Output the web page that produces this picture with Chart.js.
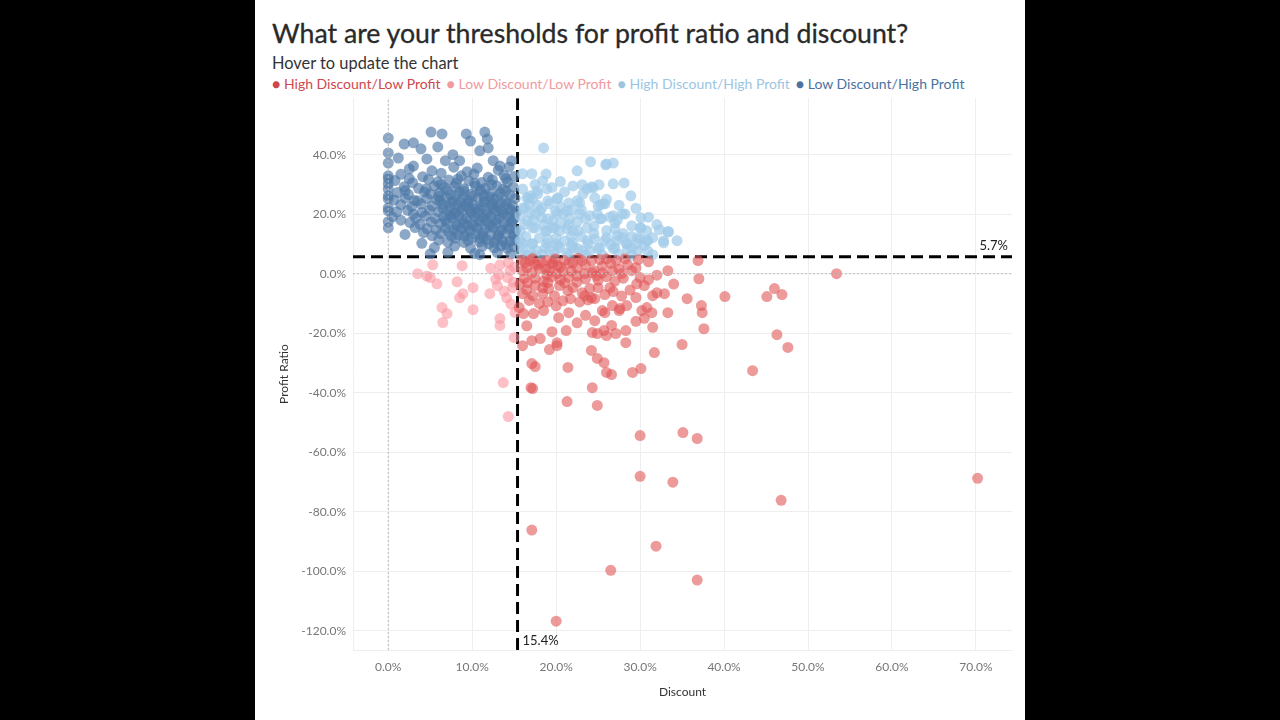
<!DOCTYPE html>
<html>
<head>
<meta charset="utf-8">
<script src="https://cdn.jsdelivr.net/npm/chart.js@4/dist/chart.umd.min.js"></script>
<style>
  html, body { margin: 0; padding: 0; background: #000; width: 1280px; height: 720px; overflow: hidden; }
  #panel { position: absolute; left: 255px; top: 0; width: 770px; height: 720px; background: #fff; }
  #title { position: absolute; left: 17px; top: 17px; font: 26.7px Lato, sans-serif; color: #2a2a2a; white-space: nowrap; -webkit-text-stroke: 0.3px #2a2a2a; }
  #subtitle { position: absolute; left: 17px; top: 53px; font: 16.4px Lato, sans-serif; color: #333; white-space: nowrap; }
  #legend { position: absolute; left: 17px; top: 75px; font: 14px Lato, sans-serif; white-space: nowrap; }
  #legend span { margin-right: 6px; }
  #wrap { position: absolute; left: 10px; top: 84px; width: 755px; height: 619px; }
</style>
</head>
<body>
<div id="panel">
  <div id="title">What are your thresholds for profit ratio and discount?</div>
  <div id="subtitle">Hover to update the chart</div>
  <div id="legend"></div>
  <div id="wrap"><canvas id="grafico"></canvas></div>
</div>
<script>
// umbrales
const umbralDescuento = 15.4;
const umbralGanancia = 5.7;

const categorias = ['High Discount/Low Profit', 'Low Discount/Low Profit', 'High Discount/High Profit', 'Low Discount/High Profit'];
const coloresPunto = ['rgba(225,87,89,0.6)', 'rgba(250,150,160,0.6)', 'rgba(160,203,232,0.7)', 'rgba(78,121,167,0.65)'];
const coloresTexto = ['#cf474d', '#f09aa1', '#9cc5e2', '#4a73a0'];

const xTicks = [0, 10, 20, 30, 40, 50, 60, 70];
const yTicks = [40, 20, 0, -20, -40, -60, -80, -100, -120];

// [descuento %, ratio %]
const altoDescBajaGan = [
  [16.3,3.7],[16.9,4.4],[17.5,3.4],[18.3,3.7],[18.9,4.4],[19.6,3.7],[20.2,2.7],[21.0,4.4],[22.0,3.7],[23.1,4.4],
  [24.2,4.4],[26.0,5.0],[27.2,4.4],[28.2,5.0],[31.0,4.0],[36.9,4.4],
  [16.0,1.0],[17.1,0.3],[18.0,1.7],[19.2,1.0],[20.1,0.0],[20.8,0.7],[22.5,-0.7],[23.4,0.0],[24.3,0.3],[25.5,0.3],
  [26.7,1.0],[27.8,0.0],[29.0,1.0],[30.0,-1.3],[33.3,1.0],[37.0,-1.7],
  [15.7,-3.4],[16.6,-3.0],[18.4,-4.7],[19.1,-5.0],[20.4,-4.0],[21.4,-5.7],[22.0,-4.7],[23.1,-6.4],[24.0,-5.0],[25.0,-4.7],
  [26.4,-4.7],[29.6,-3.4],[30.5,-4.0],[31.5,-7.4],[32.0,-6.4],[32.9,-6.7],[35.6,-8.4],
  [16.0,-6.7],[17.2,-7.4],[18.4,-6.7],[19.8,-7.4],[20.8,-9.1],[21.7,-8.4],[23.4,-7.4],[24.2,-8.1],[24.6,-8.4],[25.5,-12.4],
  [26.7,-10.7],[27.6,-11.7],[28.4,-10.7],[30.2,-12.4],[30.8,-11.4],[31.4,-13.1],[33.3,-13.1],[37.3,-10.7],[37.4,-13.1],
  [15.6,-11.4],[16.1,-13.4],[17.3,-13.4],[18.5,-12.4],[20.3,-14.8],[21.5,-13.1],[24.6,-15.8],[25.8,-13.1],[27.5,-12.4],
  [16.0,-24.2],[17.1,-22.5],[18.1,-21.8],[19.2,-25.5],[20.1,-23.2],[20.1,-24.2],[21.2,-19.1],[24.2,-25.8],[24.3,-19.8],[24.9,-20.1],
  [25.7,-19.1],[26.0,-20.8],[26.6,-17.4],[27.1,-20.1],[28.3,-19.1],[28.3,-23.2],[31.7,-26.5],[35.0,-23.8],[37.6,-18.5],
  [17.1,-30.2],[17.5,-31.2],[21.4,-31.5],[24.9,-28.5],[25.7,-29.9],[26.0,-33.2],[26.6,-33.9],[29.1,-33.2],[30.1,-31.9],
  [17.0,-38.3],[17.2,-38.6],[24.3,-38.3],[21.3,-43.0],[24.9,-44.3],
  [40.1,-7.7],[45.1,-7.7],[46.0,-5.0],[46.9,-7.0],[46.3,-20.5],[47.6,-24.8],[43.4,-32.6],[53.4,0.0],
  [30.0,-54.4],[35.1,-53.4],[36.8,-55.4],[30.0,-68.1],[33.9,-70.1],[70.2,-68.8],[46.8,-76.2],[17.1,-86.2],
  [31.9,-91.6],[26.5,-99.7],[36.8,-103.0],[20.0,-116.8],
  [16.5,2.0],[17.8,3.0],[18.8,1.5],[19.5,3.2],[20.5,2.2],[21.5,3.5],[22.5,1.8],[23.5,3.0],[24.5,1.0],[25.5,2.5],
  [26.5,3.5],[27.5,1.5],[28.5,3.0],[29.5,2.0],[17.5,-1.5],[18.5,-2.5],[19.5,-1.0],[20.5,-2.0],[21.5,-1.2],[22.5,-2.8],
  [23.5,-1.8],[25.0,-2.2],[26.0,-1.0],[27.0,-2.5],[28.0,-1.5],[16.5,-5.5],[17.5,-4.0],[19.0,-3.0],[21.0,-3.0],[22.8,-9.5],
  [23.8,-8.8],[25.8,-7.0],[26.8,-6.0],[27.8,-7.5],[28.8,-5.5],[29.5,-8.0],[19.0,-9.5],[20.0,-10.8],[18.0,-10.0],[16.8,-9.0],
  [31.0,-2.0],[32.0,-0.5],[34.0,-3.5],[29.5,-16.0],[22.5,-16.5],[23.5,-14.0],[16.5,-17.5],[19.5,-19.5],[30.5,-15.0],[31.5,-18.0],
  [15.9,4.6],[17.2,5.1],[19.9,5.0],[22.6,5.2],[25.2,4.8],[29.8,4.7],[16.2,-1.6],[18.9,-0.4],[21.8,0.9],[24.8,-0.8]
];

const bajoDescBajaGan = [
  [5.3,3.0],[8.8,2.7],[3.5,0.0],[5.0,-1.3],[5.8,-3.4],[8.2,-2.7],[10.1,-4.7],[8.9,-6.7],[8.5,-8.1],[12.1,-6.7],
  [13.3,3.0],[13.2,-0.3],[14.2,-1.3],[13.0,-4.0],[14.1,-8.1],[14.8,-4.7],[14.5,1.0],[6.4,-11.4],[7.0,-13.4],[6.5,-16.4],
  [10.1,-12.1],[13.3,-15.1],[13.3,-17.4],[15.0,-21.5],[13.7,-36.6],[14.3,-48.0],
  [14.3,3.8],[15.0,2.2],[14.9,-2.8],[12.8,-1.9],[13.8,-5.9],[14.6,-10.2],[15.1,-13.0],[12.2,1.8],[4.6,-0.8]
];

const altoDescAltaGan = [
  [18.5,42.3],[24.1,37.6],[26.0,36.9],[26.8,37.2],[22.5,34.6],[28.1,30.5],[28.9,26.2],[26.8,30.2],[25.1,29.9],[23.1,29.9],
  [23.7,28.5],[24.4,28.9],[23.2,26.8],[22.5,24.5],[21.5,23.8],[20.2,25.5],[18.9,28.5],[18.4,31.2],[17.7,27.9],[17.1,33.6],
  [16.0,33.6],[17.2,25.2],[16.7,25.5],[25.3,23.2],[25.6,23.5],[25.0,22.8],[22.8,23.8],[25.2,18.5],[26.4,19.1],[27.3,18.1],
  [28.2,20.1],[30.1,18.8],[30.8,14.4],[30.0,15.4],[32.3,14.8],[33.3,14.1],[34.4,11.1],[32.8,10.4],[30.8,11.1],[29.6,10.1],
  [28.4,10.1],[27.2,11.1],[26.0,12.1],[24.6,11.7],[23.7,15.4],[22.8,20.1],[21.6,18.5],[21.3,21.1],[20.1,20.1],[19.6,17.8],
  [18.9,14.4],[18.1,21.1],[16.9,20.5],[16.0,22.1],[15.7,19.5],[15.7,14.4],[17.2,15.4],[20.4,14.4],[22.0,14.4],[23.7,11.1],
  [25.2,8.7],[26.8,8.4],[24.0,7.7],[22.0,8.7],[20.4,8.7],[18.9,10.1],[17.2,10.1],[16.0,8.7],[15.7,11.1],[17.7,7.7],
  [19.2,7.7],[21.3,7.0],[22.6,8.4],[30.0,11.7],[31.5,12.1],[29.0,8.7],[27.9,12.1],
  [25.9,36.6],[24.2,29.2],[16.9,26.2],[17.8,26.8],[20.1,25.2],[25.8,23.5],[19.9,21.1],[20.8,20.1],[24.9,20.1],[25.4,18.5],
  [26.8,19.5],[27.9,20.1],[27.0,17.1],[29.0,16.1],[30.1,15.4],[33.4,14.1],[32.8,11.1],[30.9,11.1],[29.7,12.1],[28.4,10.1],
  [27.3,12.8],[25.8,11.1],[22.6,14.4],[21.3,15.1],[19.8,15.4],[18.7,14.4],[17.5,15.4],[16.6,17.8],[16.3,22.1],[16.5,25.5],
  [18.3,22.1],[19.2,23.5],[18.3,18.8],[19.0,18.5],[17.5,20.1],[23.8,10.1],[25.0,8.4],[27.0,8.7],[28.5,8.4],[29.7,7.7],
  [30.9,7.7],[21.8,9.4],[20.2,9.4],[18.7,8.7],[17.1,10.1],[16.0,10.1],[23.1,7.7],
  [16.4,12.5],[17.0,7.0],[18.0,12.0],[19.0,11.5],[20.0,12.0],[21.0,11.0],[21.8,12.5],[16.2,16.5],[17.3,18.0],[18.5,16.5],
  [19.5,15.5],[20.6,17.0],[21.5,16.5],[22.5,17.5],[23.5,18.5],[16.8,23.5],[17.8,23.0],[19.0,24.5],[20.5,22.5],[21.8,21.5],
  [23.0,21.5],[24.0,19.5],[24.5,16.0],[23.0,12.5],[24.5,13.5],[26.0,14.5],[27.0,15.0],[28.0,13.5],[29.0,12.5],[16.0,28.5],
  [17.5,30.0],[19.5,29.0],[21.0,27.5],[22.0,29.5],[20.5,31.0],[18.8,33.5],[15.8,6.5],[16.6,6.3],[18.3,6.5],[19.8,6.8],
  [21.5,6.2],[23.5,6.4],[25.5,6.3],[27.5,6.5],[29.0,6.2],[31.5,6.4],[24.6,25.5],[26.0,25.0],[27.5,23.0],[29.5,22.0],
  [31.0,19.0],[32.0,16.5],[30.5,9.5],[26.5,9.8],[22.0,10.5],[20.0,10.0]
];

const bajoDescAltaGan = [
  [0,45.6],[0,40.6],[0,37.2],[0,32.9],[0,31.9],[0,30.2],[0,28.5],[0,26.2],[0,25.2],[0,22.1],[0,21.1],[0,15.4],[0,17.5],
  [1.9,43.6],[3.0,44.0],[3.9,42.0],[5.1,47.6],[6.4,47.0],[5.9,42.6],[4.6,38.6],[6.8,38.0],[7.7,40.0],[8.5,38.0],[9.3,47.0],
  [9.8,44.6],[11.5,47.6],[11.8,45.3],[11.9,42.3],[10.9,41.3],[12.5,38.0],[13.3,36.2],[14.7,38.0],[3.0,36.2],[1.2,38.9],
  [2.5,35.2],[5.2,34.6],[7.8,35.8],[9.4,34.3],[10.6,35.5],[13.1,34.8],[14.4,35.9],
  [1.5,33.4],[4.1,32.6],[6.3,33.8],[8.7,32.9],[10.2,33.5],[11.9,32.4],[13.8,33.1],[15.0,32.7],
  [0.8,31.3],[2.9,30.6],[4.8,31.7],[5.9,30.9],[7.2,31.5],[8.1,30.4],[9.6,31.2],[11.1,30.7],[12.4,31.6],[14.2,30.8],
  [1.9,29.2],[3.6,28.7],[5.5,29.5],[6.7,28.9],[7.9,29.3],[9.0,28.6],[10.4,29.4],[11.6,28.8],[12.9,29.6],[13.7,28.4],[14.9,29.1],
  [1.1,27.3],[2.4,26.6],[4.3,27.5],[5.0,26.8],[6.1,27.2],[7.4,26.5],[8.5,27.4],[9.8,26.7],[10.9,27.6],[12.1,26.9],[13.3,27.1],[14.5,26.4],
  [0.7,24.8],[2.0,25.4],[3.1,24.6],[4.6,25.3],[5.8,24.9],[6.9,25.6],[7.7,24.4],[8.9,25.2],[9.5,24.7],[10.7,25.5],[11.4,24.3],
  [12.6,25.1],[13.9,24.6],[15.1,25.3],
  [1.5,23.2],[2.8,22.6],[3.9,23.4],[5.2,22.8],[6.4,23.5],[7.3,22.5],[8.2,23.1],[9.2,22.7],[10.1,23.3],[11.2,22.4],[12.3,23.2],
  [13.0,22.6],[14.1,23.4],[14.8,22.9],
  [1.0,20.8],[2.3,21.3],[4.0,20.6],[4.9,21.4],[6.0,20.9],[7.1,21.2],[8.0,20.5],[8.8,21.4],[9.9,20.7],[10.8,21.3],[11.7,20.6],
  [12.8,21.1],[13.6,20.4],[14.6,21.2],[15.2,20.6],
  [0.5,19.1],[3.3,18.7],[4.4,19.4],[5.6,18.6],[6.6,19.2],[7.6,18.8],[8.4,19.5],[9.3,18.5],[10.3,19.3],[11.3,18.9],[12.2,19.4],
  [13.2,18.6],[14.3,19.2],[15.0,18.4],
  [2.6,17.2],[3.8,16.6],[5.1,17.4],[6.2,16.8],[7.0,17.3],[8.1,16.5],[9.0,17.1],[10.0,16.7],[11.0,17.4],[12.0,16.6],[12.9,17.2],
  [13.8,16.8],[14.7,17.3],
  [4.6,15.2],[5.7,14.7],[6.8,15.4],[7.8,14.8],[8.7,15.1],[9.7,14.6],[10.6,15.3],[11.5,14.9],[12.5,15.5],[13.5,14.7],[14.4,15.2],[15.2,14.6],
  [2.0,13.2],[5.2,12.8],[6.3,13.4],[7.5,12.6],[8.3,13.1],[9.1,12.7],[10.4,13.3],[11.3,12.5],[12.2,13.2],[13.1,12.8],[14.0,13.3],[14.9,12.6],
  [4.0,10.2],[6.0,11.3],[7.1,10.6],[9.5,11.2],[10.9,10.7],[11.8,11.4],[12.7,10.5],[13.6,11.1],[14.5,10.8],[15.1,11.3],
  [5.5,8.8],[7.9,9.3],[9.8,8.6],[11.2,9.2],[12.6,8.7],[13.4,9.4],[14.2,8.5],[15.0,9.1],
  [5.0,6.7],[7.1,7.2],[10.3,6.8],[10.9,6.4],[13.0,7.1],[14.6,6.6],
  [6.5,22.0],[7.5,24.0],[8.5,21.8],[9.5,23.8],[10.5,22.0],[11.5,23.9],[12.5,21.9],[13.5,23.8],[14.5,21.8],[6.8,18.0],
  [7.8,20.0],[8.8,18.1],[9.8,20.1],[10.8,18.0],[11.8,20.0],[12.8,18.1],[13.8,20.0],[14.8,18.0],[7.2,14.0],[8.2,16.0],
  [9.2,14.0],[10.2,16.0],[11.2,13.8],[12.2,16.0],[13.2,14.0],[14.2,16.0],[8.0,12.0],[9.0,10.5],[10.0,12.0],[11.0,11.8],
  [12.0,10.0],[13.0,11.9],[14.0,9.8],[15.0,13.5],[6.0,26.0],[7.0,28.0],[8.0,26.2],[9.0,27.8],[10.0,26.0],[11.0,28.2],
  [12.0,25.8],[13.0,26.0],[14.0,27.8],[6.3,30.0],[8.3,31.8],[10.3,30.4],[12.3,30.0],[14.0,32.0],[3.0,20.0],[3.5,24.5],
  [4.5,28.5],[2.0,28.0],[1.5,18.0],[4.2,13.8],[3.2,15.5],[2.5,32.0],
  [7.4,19.6],[9.6,21.9],[11.6,17.9],[13.4,21.5],[8.6,24.2],[10.6,20.4],[12.4,23.6],[6.2,24.6],[9.4,16.4],[11.4,26.2]
];

const rangoX = [-4.2, 74.3];
const rangoY = [-126.5, 59];

function aPuntos(lista) {
  return lista.map(p => ({ x: p[0], y: p[1] }));
}

function lineaDataset(datos, color, ancho, guiones) {
  return {
    type: 'line', data: datos, borderColor: color, borderWidth: ancho, borderDash: guiones,
    pointRadius: 0, fill: false, showLine: true, tension: 0
  };
}

// leyenda en html
const leyenda = document.getElementById('legend');
categorias.forEach((c, i) => {
  const s = document.createElement('span');
  s.style.color = coloresTexto[i];
  s.textContent = '\u25CF ' + c;
  leyenda.appendChild(s);
});

const series = [altoDescBajaGan, bajoDescBajaGan, altoDescAltaGan, bajoDescAltaGan];

const etiquetasUmbral = {
  id: 'etiquetasUmbral',
  afterDatasetsDraw(chart) {
    const ctx = chart.ctx;
    const x = chart.scales.x, y = chart.scales.y;
    ctx.save();
    ctx.fillStyle = '#222';
    ctx.font = '13px Lato, sans-serif';
    ctx.textBaseline = 'middle';
    ctx.textAlign = 'right';
    ctx.fillText(umbralGanancia.toFixed(1) + '%', chart.chartArea.right - 4, y.getPixelForValue(umbralGanancia) - 11);
    ctx.textAlign = 'left';
    ctx.fillText(umbralDescuento.toFixed(1) + '%', x.getPixelForValue(umbralDescuento) + 5, chart.chartArea.bottom - 9);
    ctx.restore();
  }
};

const datasets = series.map((s, i) => ({
  type: 'scatter',
  label: categorias[i],
  data: aPuntos(s),
  backgroundColor: coloresPunto[i],
  borderWidth: 0,
  pointRadius: 5.5,
  pointHoverRadius: 5.5
}));

datasets.unshift(
  lineaDataset([{ x: 0, y: rangoY[0] }, { x: 0, y: rangoY[1] }], '#bbb', 1, [2, 2]),
  lineaDataset([{ x: rangoX[0], y: 0 }, { x: rangoX[1], y: 0 }], '#bbb', 1, [2, 2])
);
datasets.push(
  lineaDataset([{ x: rangoX[0], y: umbralGanancia }, { x: rangoX[1], y: umbralGanancia }], '#000', 3, [12, 6]),
  lineaDataset([{ x: umbralDescuento, y: rangoY[0] }, { x: umbralDescuento, y: rangoY[1] }], '#000', 3, [12, 6])
);

Chart.defaults.font.family = 'Lato, sans-serif';

new Chart(document.getElementById('grafico'), {
  type: 'scatter',
  data: { datasets },
  plugins: [etiquetasUmbral],
  options: {
    responsive: true,
    maintainAspectRatio: false,
    animation: false,
    layout: { padding: { top: 2, right: 8, left: 0, bottom: 0 } },
    plugins: { legend: { display: false }, tooltip: { enabled: false } },
    scales: {
      x: {
        type: 'linear', min: rangoX[0], max: rangoX[1],
        afterBuildTicks: s => { s.ticks = xTicks.map(v => ({ value: v })); },
        afterFit: s => { s.height = 53; },
        grid: { color: '#eeeeee', drawTicks: false },
        border: { display: true, color: '#eeeeee' },
        ticks: { color: '#777', font: { size: 12 }, padding: 10, callback: v => v.toFixed(1) + '%' },
        title: { display: true, text: 'Discount', color: '#333', font: { size: 12 }, padding: { top: 8 } }
      },
      y: {
        type: 'linear', min: rangoY[0], max: rangoY[1],
        afterBuildTicks: s => { s.ticks = yTicks.map(v => ({ value: v })); },
        afterFit: s => { s.width = 88; },
        grid: { color: '#eeeeee', drawTicks: false },
        border: { display: true, color: '#eeeeee' },
        ticks: { color: '#777', font: { size: 12 }, padding: 7, callback: v => v.toFixed(1) + '%' },
        title: { display: true, text: 'Profit Ratio', color: '#333', font: { size: 12 }, padding: { top: 12, bottom: 0 } }
      }
    }
  }
});
</script>
</body>
</html>
